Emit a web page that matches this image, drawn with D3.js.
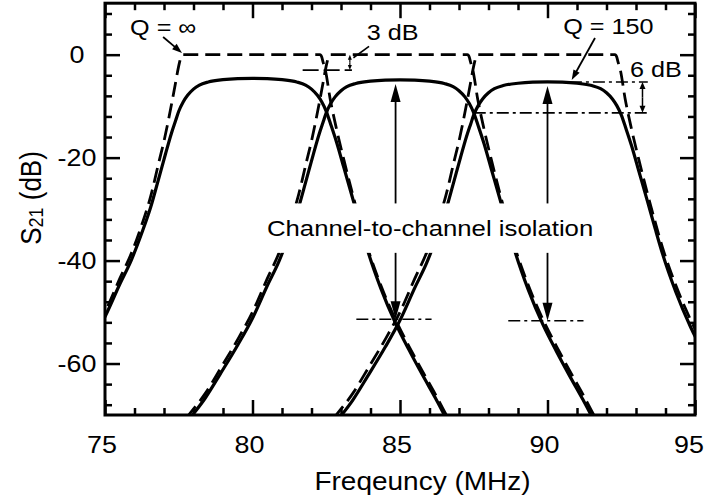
<!DOCTYPE html>
<html>
<head>
<meta charset="utf-8">
<script src="https://cdn.jsdelivr.net/npm/d3@7"></script>
<style>
  html, body { margin: 0; padding: 0; background: #fff; }
  svg { display: block; font-family: "Liberation Sans", Arial, Helvetica, sans-serif; }
</style>
</head>
<body>
<svg id="chart" width="706" height="501"></svg>
<script>
// Channel centre frequencies (MHz)
const channelCenters = [80, 85, 90];

// Lossless filter (Q = ∞): offset from channel centre (MHz) and S21 (dB)
const idealOffsets = [-7.7, -7.2, -6.6, -6.1, -5.5, -5.0, -4.5, -4.1, -3.75, -3.45, -3.2, -2.97, -2.74, -2.6,
  -2.53, -2.47, -2.43, -2.4, -2.35, -2.0, 0, 2.0, 2.28, 2.32, 2.35, 2.39, 2.47, 2.63, 2.85, 3.1, 3.38, 3.65,
  3.9, 4.35, 4.85, 5.3, 5.76, 6.2, 6.6, 7.0];
const idealDb = [-74, -70.3, -65.8, -61.1, -55.3, -50, -43.5, -38.5, -33, -27.5, -21.5, -16, -9.5, -5.2,
  -3, -1.4, -0.5, -0.15, 0, 0, 0, 0, 0, -0.15, -0.5, -1.4, -3, -8.5, -14.5, -20.5, -26.8, -32.5,
  -37.5, -44.8, -51.5, -56.6, -61.5, -66, -70.3, -74];

// Finite-Q filters (Q = 150): offset from channel centre (MHz) and S21 (dB) per channel
const lossyOffsets = [-7.7, -7.2, -6.6, -6.1, -5.5, -5.0, -4.5, -4.1, -3.75, -3.45, -3.2, -2.95, -2.75, -2.6,
  -2.5, -2.35, -2.2, -2.0, -1.8, -1.5, -1.0, -0.5, 0, 0.5, 1.0, 1.5, 1.8, 2.0, 2.2, 2.35, 2.5, 2.65, 2.85,
  3.1, 3.38, 3.65, 3.9, 4.35, 4.85, 5.3, 5.76, 6.2, 6.6, 7.0];
const lossyDb80 = [-74.6, -70.9, -66.4, -61.8, -56.1, -50.9, -44.6, -39.8, -34.6, -29.6, -24.5, -19.3, -15.3, -12.7,
  -11.0, -9.2, -7.9, -6.7, -5.9, -5.3, -4.85, -4.65, -4.6, -4.65, -4.85, -5.3, -5.9, -6.7, -7.9, -9.2, -11.0, -13.5, -17.0,
  -22.0, -27.6, -33.1, -38.0, -45.4, -52.2, -57.3, -62.2, -66.7, -71.0, -74.7];
const lossyDb85 = [-74.9, -71.2, -66.7, -62.1, -56.4, -51.2, -44.9, -40.1, -34.9, -29.9, -24.8, -19.6, -15.6, -13.0,
  -11.3, -9.5, -8.2, -7.0, -6.2, -5.6, -5.15, -4.95, -4.9, -4.95, -5.15, -5.6, -6.2, -7.0, -8.2, -9.5, -11.3, -13.8, -17.3,
  -22.3, -27.9, -33.4, -38.3, -45.7, -52.5, -57.6, -62.5, -67.0, -71.3, -75.0];
const lossyDb90 = [-75.3, -71.6, -67.1, -62.5, -56.8, -51.6, -45.3, -40.5, -35.3, -30.3, -25.2, -20.0, -16.0, -13.4,
  -11.7, -9.9, -8.6, -7.4, -6.6, -6.0, -5.55, -5.35, -5.3, -5.35, -5.55, -6.0, -6.6, -7.4, -8.6, -9.9, -11.7, -14.2, -17.7,
  -22.7, -28.3, -33.8, -38.7, -46.1, -52.9, -58.0, -62.9, -67.4, -71.7, -75.4];
const lossyDb = [lossyDb80, lossyDb85, lossyDb90];

// Isolation levels between non-adjacent channels (dB), marked at 85 and 90 MHz
const isolationFreqs = [84.85, 90.0];
const isolationDb = [-51.4, -51.7];

// Axis ticks
const xMajorTicks = [75, 80, 85, 90, 95];
const xMinorTicks = [76, 77, 78, 79, 81, 82, 83, 84, 86, 87, 88, 89, 91, 92, 93, 94];
const yMajorTicks = [-60, -40, -20, 0];
const yMinorTicks = [-68, -64, -56, -52, -48, -44, -36, -32, -28, -24, -16, -12, -8, -4, 4, 8];

const svg = d3.select("#chart");
const X0 = 105, X1 = 695, Y0 = 3.2, Y1 = 415;
const x = d3.scaleLinear().domain([75, 95]).range([X0, X1]);
const y = d3.scaleLinear().domain([-70, 10]).range([Y1, Y0]);
const SX = 1.12; // horizontal glyph stretch used for all text

function label(g, px, py, str, size, anchor) {
  return g.append("text")
    .attr("transform", `translate(${px},${py}) scale(${SX},1)`)
    .attr("font-size", size)
    .attr("text-anchor", anchor || "start")
    .attr("fill", "#000")
    .text(str);
}

function arrow(g, p1, p2, len, wid, sw) {
  const dx = p2[0] - p1[0], dy = p2[1] - p1[1], d = Math.hypot(dx, dy);
  const ux = dx / d, uy = dy / d;
  const bx = p2[0] - ux * len, by = p2[1] - uy * len;
  g.append("line")
    .attr("x1", p1[0]).attr("y1", p1[1])
    .attr("x2", bx + ux).attr("y2", by + uy)
    .attr("stroke", "#000").attr("stroke-width", sw);
  g.append("path")
    .attr("d", `M${p2[0]},${p2[1]}L${bx - uy * wid / 2},${by + ux * wid / 2}L${bx + uy * wid / 2},${by - ux * wid / 2}Z`)
    .attr("fill", "#000");
}

function doubleArrow(g, f, dbTop, dbBottom, len, wid, sw) {
  const mid = [x(f), (y(dbTop) + y(dbBottom)) / 2];
  arrow(g, mid, [x(f), y(dbTop)], len, wid, sw);
  arrow(g, mid, [x(f), y(dbBottom)], len, wid, sw);
}

// Clip the responses to the plot frame
svg.append("defs").append("clipPath").attr("id", "plot-clip")
  .append("rect").attr("x", X0).attr("y", Y0).attr("width", X1 - X0).attr("height", Y1 - Y0);

const curves = svg.append("g").attr("clip-path", "url(#plot-clip)");
const line = d3.line().x(d => x(d[0])).y(d => y(d[1])).curve(d3.curveMonotoneX);

// Q = ∞ (dashed)
channelCenters.forEach(fc => {
  const pts = idealOffsets.map((o, i) => [fc + o, idealDb[i]]);
  curves.append("path").datum(pts).attr("d", line)
    .attr("fill", "none").attr("stroke", "#000").attr("stroke-width", 2.8)
    .attr("stroke-dasharray", "15,7");
});

// Q = 150 (solid)
channelCenters.forEach((fc, c) => {
  const pts = lossyOffsets.map((o, i) => [fc + o, lossyDb[c][i]]);
  curves.append("path").datum(pts).attr("d", line)
    .attr("fill", "none").attr("stroke", "#000").attr("stroke-width", 3.2)
    .attr("stroke-linejoin", "round");
});

const ann = svg.append("g");
const dashDot = "12,4,3,4";

// Label backdrop for the isolation caption
const boxTop = -28.9, boxBottom = -38.5;
ann.append("rect")
  .attr("x", x(80.35)).attr("y", y(boxTop))
  .attr("width", x(91.65) - x(80.35)).attr("height", y(boxBottom) - y(boxTop))
  .attr("fill", "#fff");
label(ann, x(86.02), y(-35.2), "Channel-to-channel isolation", 23, "middle");

// Isolation arrows: up to the passband, down to the neighbour's skirt
const peakAt = [lossyDb85[lossyOffsets.indexOf(0)], lossyDb90[lossyOffsets.indexOf(0)]];
isolationFreqs.forEach((f, i) => {
  arrow(ann, [x(f), y(boxTop)], [x(f), y(peakAt[i] - 0.8)], 18, 10, 1.8);
  arrow(ann, [x(f), y(boxBottom)], [x(f), y(isolationDb[i])], 18, 10, 1.8);
  ann.append("line")
    .attr("x1", x(f - 1.33)).attr("x2", x(f + 1.22))
    .attr("y1", y(isolationDb[i])).attr("y2", y(isolationDb[i]))
    .attr("stroke", "#000").attr("stroke-width", 1.6).attr("stroke-dasharray", dashDot);
});

// 3 dB crossover marker
const crossDb = -3;
ann.append("line")
  .attr("x1", x(81.7)).attr("x2", x(83.37)).attr("y1", y(crossDb)).attr("y2", y(crossDb))
  .attr("stroke", "#000").attr("stroke-width", 1.6).attr("stroke-dasharray", "16,5");
doubleArrow(ann, 83.3, 0, crossDb, 5, 4, 1.2);
ann.append("line")
  .attr("x1", x(83.95)).attr("y1", y(1.6)).attr("x2", x(83.42)).attr("y2", y(-0.6))
  .attr("stroke", "#000").attr("stroke-width", 1.6);
label(ann, x(83.87), y(2.86), "3 dB", 22.5);

// 6 dB marker: peak of the 90 MHz channel and the adjacent crossover
const peakDb = peakAt[1];
const lowDb = peakDb - 6;
ann.append("line")
  .attr("x1", x(90.76)).attr("x2", x(93.4)).attr("y1", y(peakDb)).attr("y2", y(peakDb))
  .attr("stroke", "#000").attr("stroke-width", 1.6).attr("stroke-dasharray", dashDot);
ann.append("line")
  .attr("x1", x(87.5)).attr("x2", x(93.4)).attr("y1", y(lowDb)).attr("y2", y(lowDb))
  .attr("stroke", "#000").attr("stroke-width", 1.6).attr("stroke-dasharray", dashDot);
doubleArrow(ann, 93.22, peakDb, lowDb, 7, 6, 1.5);
label(ann, x(92.8), y(-4.4), "6 dB", 22.5);

// Curve labels
label(ann, x(75.85), y(3.83), "Q = ∞", 22.5);
arrow(ann, [x(76.97), y(3.44)], [x(77.61), y(0.33)], 10, 7, 1.8);
label(ann, x(90.53), y(4.1), "Q = 150", 22.5);
arrow(ann, [x(91.61), y(3.24)], [x(90.82), y(-4.9)], 10, 7, 1.8);

// Frame and ticks (inward on all four sides)
const axes = svg.append("g");
function ticks(axisGen, tx, ty, vals, len) {
  const g = axes.append("g").attr("transform", `translate(${tx},${ty})`)
    .call(axisGen.tickValues(vals).tickSize(-len).tickFormat(""));
  g.select(".domain").remove();
  g.selectAll(".tick line").attr("stroke", "#000").attr("stroke-width", 2.5);
}
ticks(d3.axisBottom(x), 0, Y1, xMajorTicks, 15);
ticks(d3.axisBottom(x), 0, Y1, xMinorTicks, 7);
ticks(d3.axisTop(x), 0, Y0, xMajorTicks, 15);
ticks(d3.axisTop(x), 0, Y0, xMinorTicks, 7);
ticks(d3.axisLeft(y), X0, 0, yMajorTicks, 15);
ticks(d3.axisLeft(y), X0, 0, yMinorTicks, 7);
ticks(d3.axisRight(y), X1, 0, yMajorTicks, 15);
ticks(d3.axisRight(y), X1, 0, yMinorTicks, 7);

axes.append("rect")
  .attr("x", X0).attr("y", Y0).attr("width", X1 - X0).attr("height", Y1 - Y0)
  .attr("fill", "none").attr("stroke", "#000").attr("stroke-width", 3);

// Tick labels
xMajorTicks.forEach(v => label(axes, Math.min(x(v) - 3, 689), Y1 + 38, String(v), 24, "middle"));
yMajorTicks.forEach(v => label(axes, 77, y(v) + 8, String(v), 24, "middle"));

// Axis titles
label(axes, 422.5, 490, "Freqeuncy (MHz)", 25, "middle");
const yt = axes.append("text")
  .attr("transform", `translate(41,198) scale(${SX},1) rotate(-90)`)
  .attr("text-anchor", "middle").attr("font-size", 26).attr("fill", "#000");
yt.append("tspan").text("S");
yt.append("tspan").attr("font-size", 18).attr("dy", 2).text("21");
yt.append("tspan").attr("dy", -2).text(" (dB)");
</script>
</body>
</html>
